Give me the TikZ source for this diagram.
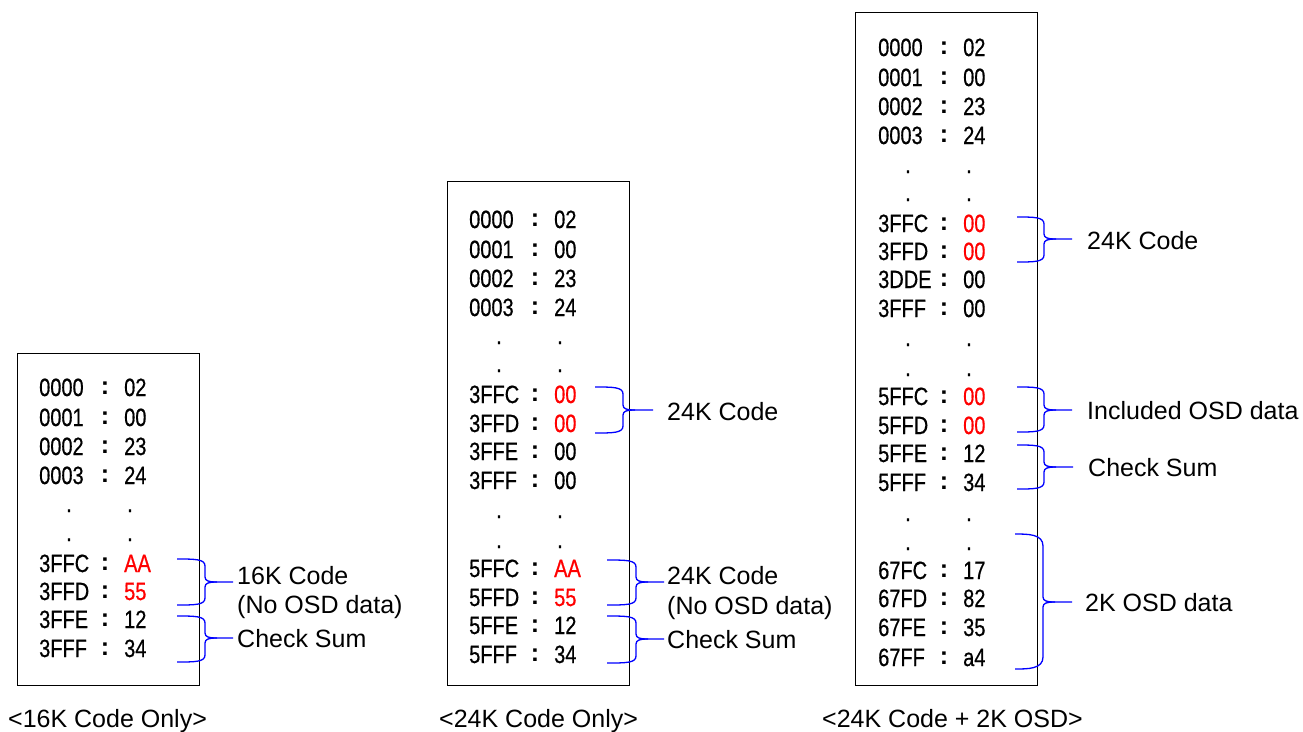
\documentclass[tikz,border=0pt]{standalone}
\usepackage{fontspec}
\setmainfont{Liberation Sans}
\newfontfamily\rowfont[FakeStretch=0.8,FakeBold=0.6]{Liberation Sans}
\newfontfamily\colonfont{Liberation Sans Bold}
\definecolor{braceblue}{RGB}{0,0,255}
\definecolor{valred}{RGB}{255,0,0}
\tikzset{
  cell/.style={inner sep=0pt, font=\rowfont\fontsize{25}{30}\selectfont, text height=18pt, text depth=0pt},
  lbl/.style={inner sep=0pt, font=\fontsize{25}{30}\selectfont, anchor=base west},
  membox/.style={draw=black, line width=1pt},
  brc/.style={draw=braceblue, line width=1.3pt}
}
% #1 name, #2 x, #3 y, #4 address, #5 value, #6 colour
\newcommand\memrow[6]{%
  \node[cell,anchor=west] (#1a) at (#2,#3) {#4};
  \node[cell,font=\colonfont\fontsize{25}{30}\selectfont] (#1c) at ({#2+66},{#3-2}) {:};
  \node[cell,anchor=west,text=#6] (#1v) at ({#2+85},#3) {#5};
}
% #1 name, #2 x, #3 y
\newcommand\memdots[3]{%
  \node[cell,anchor=base] (#1a) at ({#2+30},{#3+2}) {.};
  \node[cell,anchor=base] (#1v) at ({#2+91},{#3+2}) {.};
}
% #1 x0, #2 xv, #3 xt, #4 ytop, #5 ymid, #6 ybot, #7 radius
\newcommand\mybrace[7]{%
  \draw[brc] (#1,#4) .. controls ({#2-#7-3},#4) and (#2,#4) .. (#2,{#4+#7})
    -- (#2,{#5-5}) .. controls (#2,{#5-1}) and ({#2+4},#5) .. ({#2+12},#5) -- (#3,#5);
  \draw[brc] ({#2+12},#5) .. controls ({#2+4},#5) and (#2,{#5+1}) .. (#2,{#5+5})
    -- (#2,{#6-#7}) .. controls (#2,#6) and ({#2-#7-3},#6) .. (#1,#6);
}
\begin{document}
\begin{tikzpicture}[x=1pt,y=-1pt]
\useasboundingbox (0,0) rectangle (1303,731);

% ---------- box 1 ----------
\draw[membox] (17,353) rectangle (199,685);
\memrow{a1}{39}{387}{0000}{02}{black}
\memrow{a2}{39}{417}{0001}{00}{black}
\memrow{a3}{39}{446}{0002}{23}{black}
\memrow{a4}{39}{475}{0003}{24}{black}
\memdots{ad1}{39}{510}
\memdots{ad2}{39}{539}
\memrow{a5}{39}{563}{3FFC}{AA}{valred}
\memrow{a6}{39}{591}{3FFD}{55}{valred}
\memrow{a7}{39}{619}{3FFE}{12}{black}
\memrow{a8}{39}{648}{3FFF}{34}{black}
\mybrace{177}{205}{233}{559}{582}{605}{7}
\mybrace{177}{205}{233}{616}{638}{662}{7}
\node[lbl] (al1) at (237,584) {16K Code};
\node[lbl] (al2) at (237,613) {(No OSD data)};
\node[lbl] (al3) at (237,647) {Check Sum};
\node[lbl] (acap) at (8,727) {<16K Code Only>};

% ---------- box 2 ----------
\draw[membox] (447,181) rectangle (629,685);
\memrow{b1}{469}{219}{0000}{02}{black}
\memrow{b2}{469}{249}{0001}{00}{black}
\memrow{b3}{469}{278}{0002}{23}{black}
\memrow{b4}{469}{307}{0003}{24}{black}
\memdots{bd1}{469}{342}
\memdots{bd2}{469}{370}
\memrow{b5}{469}{394}{3FFC}{00}{valred}
\memrow{b6}{469}{423}{3FFD}{00}{valred}
\memrow{b7}{469}{451}{3FFE}{00}{black}
\memrow{b8}{469}{480}{3FFF}{00}{black}
\memdots{bd3}{469}{516}
\memdots{bd4}{469}{546}
\memrow{b9}{469}{568}{5FFC}{AA}{valred}
\memrow{b10}{469}{597}{5FFD}{55}{valred}
\memrow{b11}{469}{625}{5FFE}{12}{black}
\memrow{b12}{469}{654}{5FFF}{34}{black}
\mybrace{595}{623}{653}{387}{410}{433}{7}
\mybrace{607}{636}{664}{560}{582}{605}{7}
\mybrace{607}{636}{664}{616}{639}{663}{7}
\node[lbl] (bl0) at (667,420) {24K Code};
\node[lbl] (bl1) at (667,584) {24K Code};
\node[lbl] (bl2) at (667,614) {(No OSD data)};
\node[lbl] (bl3) at (667,648) {Check Sum};
\node[lbl] (bcap) at (439,727) {<24K Code Only>};

% ---------- box 3 ----------
\draw[membox] (855,12) rectangle (1037,685);
\memrow{c1}{878}{47}{0000}{02}{black}
\memrow{c2}{878}{77}{0001}{00}{black}
\memrow{c3}{878}{106}{0002}{23}{black}
\memrow{c4}{878}{135}{0003}{24}{black}
\memdots{cd1}{878}{171}
\memdots{cd2}{878}{199}
\memrow{c5}{878}{223}{3FFC}{00}{valred}
\memrow{c6}{878}{251}{3FFD}{00}{valred}
\memrow{c7}{878}{279}{3DDE}{00}{black}
\memrow{c8}{878}{308}{3FFF}{00}{black}
\memdots{cd3}{878}{344}
\memdots{cd4}{878}{374}
\memrow{c9}{878}{396}{5FFC}{00}{valred}
\memrow{c10}{878}{425}{5FFD}{00}{valred}
\memrow{c11}{878}{453}{5FFE}{12}{black}
\memrow{c12}{878}{482}{5FFF}{34}{black}
\memdots{cd5}{878}{519}
\memdots{cd6}{878}{548}
\memrow{c13}{878}{570}{67FC}{17}{black}
\memrow{c14}{878}{598}{67FD}{82}{black}
\memrow{c15}{878}{627}{67FE}{35}{black}
\memrow{c16}{878}{657}{67FF}{a4}{black}
\mybrace{1017}{1044}{1072}{217}{239}{262}{7}
\mybrace{1017}{1044}{1072}{387}{410}{432}{7}
\mybrace{1017}{1044}{1073}{445}{467}{489}{7}
\mybrace{1015}{1043}{1072}{534}{602}{669}{12}
\node[lbl] (cl1) at (1087,249) {24K Code};
\node[lbl] (cl2) at (1087,419) {Included OSD data};
\node[lbl] (cl3) at (1088,476) {Check Sum};
\node[lbl] (cl4) at (1085,611) {2K OSD data};
\node[lbl] (ccap) at (822,727) {<24K Code + 2K OSD>};
\end{tikzpicture}
\end{document}
